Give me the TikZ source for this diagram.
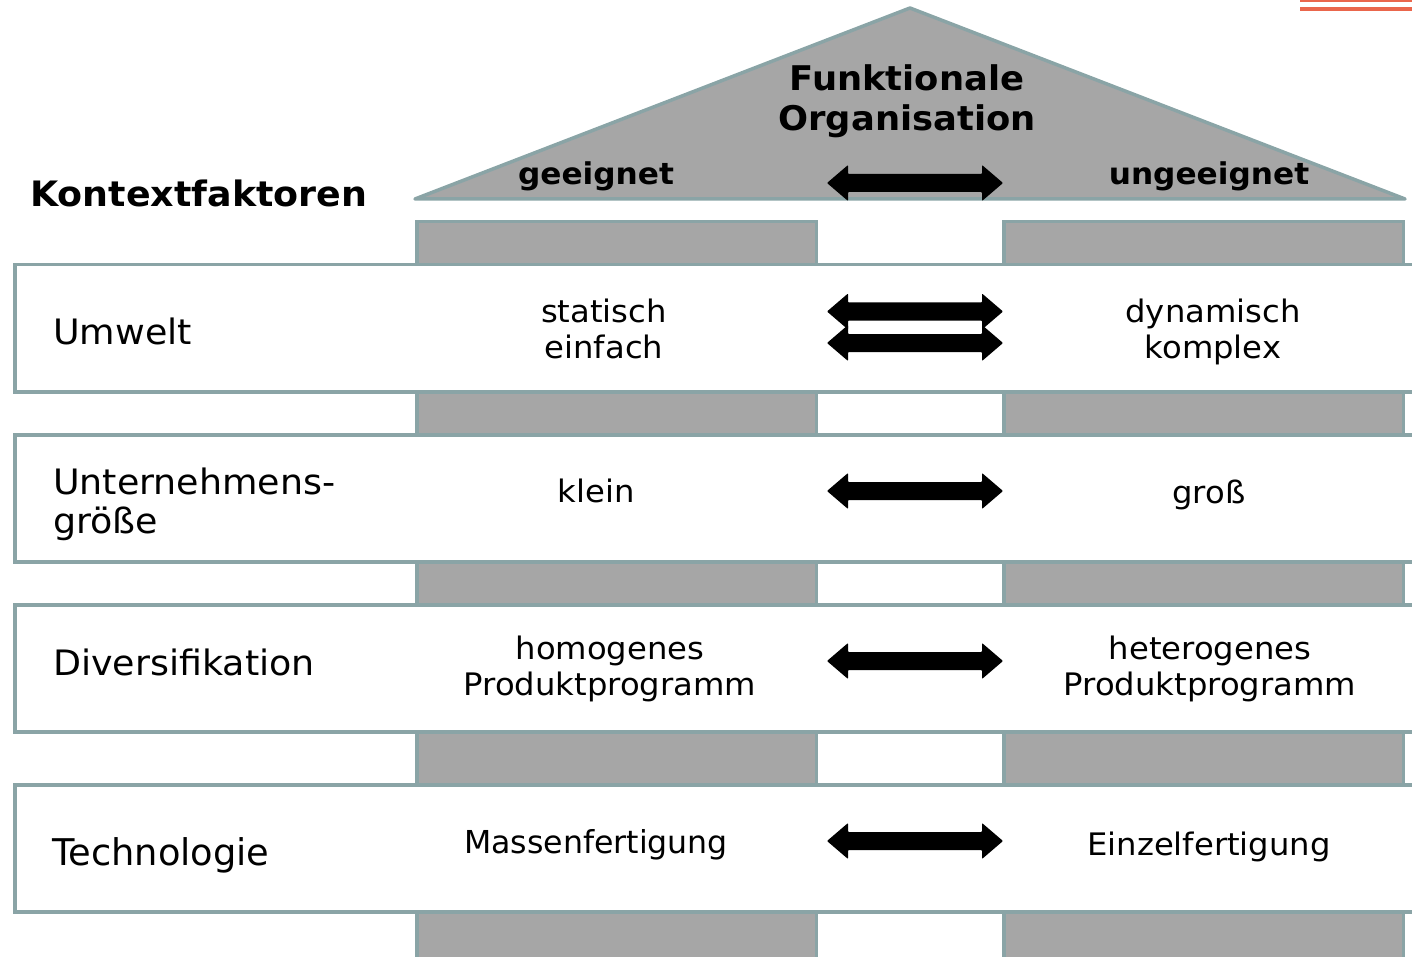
\documentclass[tikz,border=0pt]{standalone}
\usepackage{fontspec}
\setmainfont{DejaVu Sans}[FakeStretch=1.04]
\newfontfamily\condfont{DejaVu Sans}
\definecolor{edge}{RGB}{138,164,166}
\definecolor{pgray}{RGB}{166,166,166}
\definecolor{accent}{RGB}{234,102,76}
\begin{document}
\begin{tikzpicture}[x=1pt,y=-1pt,
  rowbox/.style={draw=edge, line width=3.5pt, fill=white, anchor=north west, minimum width=1460pt, minimum height=127pt, inner sep=0pt},
  pillar/.style={draw=edge, line width=3.5pt, fill=pgray, anchor=north west, minimum width=399.5pt, minimum height=760pt, inner sep=0pt},
  lab/.style={anchor=base west, inner sep=0pt, font=\fontsize{35}{39}\selectfont, align=left},
  mid/.style={anchor=base, inner sep=0pt, font=\fontsize{31}{36}\selectfont, align=center},
  hd/.style={anchor=base, inner sep=0pt, font=\bfseries\fontsize{34}{40}\selectfont, align=center},
  sub/.style={anchor=base, inner sep=0pt, font=\bfseries\fontsize{30}{34}\selectfont},
  blockarrow/.pic={\fill[black, rounded corners=0.8pt] (-88,0) -- (-67,-18) -- (-67,-9) -- (67,-9) -- (67,-18) -- (88,0) -- (67,18) -- (67,9) -- (-67,9) -- (-67,18) -- cycle;}
]
\useasboundingbox (0,0) rectangle (1412,957);
\clip (0,0) rectangle (1412,957);

% accent lines
\fill[accent] (1300,0) rectangle (1412,2);
\fill[accent] (1300,7) rectangle (1412,11);

% roof
\draw[draw=edge, fill=pgray, line width=3.5pt, line join=round] (415,199) -- (910,8) -- (1405,199) -- cycle;

% pillars
\node[pillar] (pl) at (415,220) {};
\node[pillar] (pr) at (1002,220) {};

% rows
\node[rowbox] (r1) at (13,263) {};
\node[rowbox] (r2) at (13,433) {};
\node[rowbox] (r3) at (13,603) {};
\node[rowbox] (r4) at (13,783) {};

% arrows
\pic at (915,183) {blockarrow};
\pic at (915,311.5) {blockarrow};
\pic at (915,343) {blockarrow};
\pic at (915,491) {blockarrow};
\pic at (915,661) {blockarrow};
\pic at (915,841) {blockarrow};

% headings (base = baseline of last line)
\node[hd] (title) at (907,131) {Funktionale\\Organisation};
\node[sub] (geeig) at (596,185) {geeignet};
\node[sub] (ungeeig) at (1209,185) {ungeeignet};
\node[anchor=base west, inner sep=0pt, font=\bfseries\fontsize{35}{39}\selectfont] (kf) at (30,207) {Kontextfaktoren};

% row labels
\node[lab] (l1) at (53,344) {Umwelt};
\node[lab] (l2) at (53,533) {Unternehmens-\\größe};
\node[lab] (l3) at (53,675) {Diversifikation};
\node[lab, font=\condfont\fontsize{36.8}{40}\selectfont] (l4) at (52,865) {Technologie};

% left column
\node[mid] (a1) at (604,358) {statisch\\einfach};
\node[mid] (a2) at (596,502) {klein};
\node[mid] (a3) at (610,695) {homogenes\\Produktprogramm};
\node[mid, font=\condfont\fontsize{31.6}{36}\selectfont] (a4) at (596,853) {Massenfertigung};

% right column
\node[mid] (b1) at (1213,358) {dynamisch\\komplex};
\node[mid] (b2) at (1209,503) {groß};
\node[mid] (b3) at (1210,695) {heterogenes\\Produktprogramm};
\node[mid] (b4) at (1209,855) {Einzelfertigung};
\end{tikzpicture}
\end{document}
